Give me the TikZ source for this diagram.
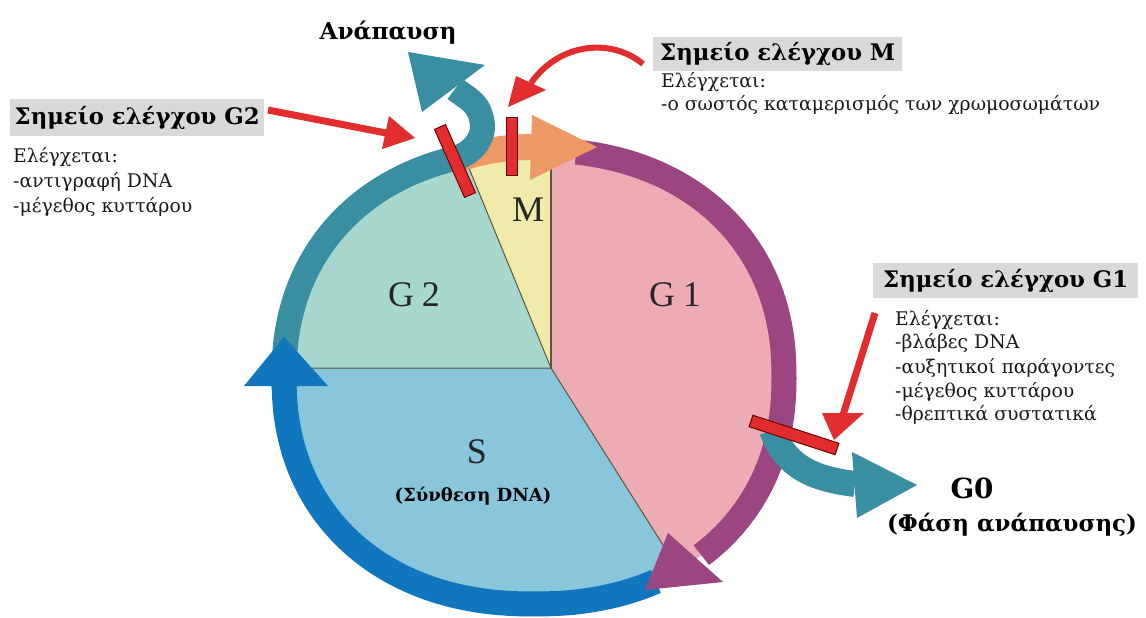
\documentclass[tikz,border=0pt]{standalone}
\usepackage{fontspec}
\setmainfont{Liberation Serif}
\newfontfamily\cam{DejaVu Serif}
\newlength\tmpw
\newcommand\fitsize[4]{\settowidth\tmpw{\cam\fontsize{10}{10}\selectfont#2#4}\pgfmathsetmacro#1{10*#3/\tmpw}}
\begin{document}
\fitsize\szlab{\bfseries}{245}{Σημείο ελέγχου G1}%
\fitsize\szbody{}{220}{-αυξητικοί παράγοντες}%
\fitsize\szrest{\bfseries}{137}{Ανάπαυση}%
\fitsize\szgz{\bfseries}{43}{G0}%
\fitsize\szfas{\bfseries}{250}{(Φάση ανάπαυσης)}%
\fitsize\szsyn{\bfseries}{157}{(Σύνθεση DNA)}%
\begin{tikzpicture}[x=1pt,y=-1pt,
  declare function={ex(\t)=534+250*sign(cos(\t))*pow(abs(cos(\t))+0.00001,0.909);
                     ey(\t)=377-227*sign(sin(\t))*pow(abs(sin(\t))+0.00001,0.909);},
  ring/.style={line width=25pt},
  redbar/.style={draw=red!45!black, fill=cRed, line width=1pt},
  redshaft/.style={draw=cRed, line width=7pt},
  sect/.style={draw=lineC, line width=1pt},
  lab/.style={font=\cam\fontsize{\szlab}{\szlab}\selectfont\bfseries, fill=boxgrey, inner sep=0pt, text=black, anchor=north west},
  body/.style={font=\cam\fontsize{\szbody}{\szbody}\selectfont, anchor=west, inner sep=0pt, text=black!90},
  phase/.style={font=\fontsize{36}{36}\selectfont, text=black!85, inner sep=0pt}]
\definecolor{cG2}{RGB}{168,215,205}
\definecolor{cM}{RGB}{240,235,170}
\definecolor{cG1}{RGB}{237,172,180}
\definecolor{cS}{RGB}{137,198,220}
\definecolor{cTeal}{RGB}{57,142,162}
\definecolor{cBlue}{RGB}{16,118,190}
\definecolor{cPurple}{RGB}{155,70,128}
\definecolor{cOrange}{RGB}{238,152,102}
\definecolor{cRed}{RGB}{225,45,45}
\definecolor{boxgrey}{RGB}{217,217,217}
\definecolor{lineC}{RGB}{90,85,60}

\fill[white] (0,0) rectangle (1146,618);
\useasboundingbox (0,0) rectangle (1146,618);

% pie
\begin{scope}
\clip plot[domain=0:360, samples=181, variable=\t] ({ex(\t)},{ey(\t)}) -- cycle;
\fill[cG1] (551,368) -- (551,100) -- (900,100) -- (900,722) -- (775,722) -- cycle;
\fill[cS] (551,368) -- (775,722) -- (200,722) -- (200,368) -- cycle;
\fill[cG2] (551,368) -- (200,368) -- (200,100) -- (441,100) -- cycle;
\fill[cM] (551,368) -- (441,100) -- (551,100) -- cycle;
\draw[sect] (441,100) -- (551,368) -- (200,368);
\draw[sect] (551,368) -- (775,722);
\draw[sect, line width=2pt] (551,100) -- (551,368);
\end{scope}

% ring
\draw[cTeal, ring] plot[domain=106:182, samples=40, variable=\t] ({ex(\t)},{ey(\t)});
\draw[cBlue, ring] plot[domain=181.6:297, samples=60, variable=\t] ({ex(\t)},{ey(\t)});
\fill[cBlue] (284,337) -- (244,386) -- (328,386) -- cycle;
\draw[cPurple, ring] plot[domain=-50:82, samples=70, variable=\t] ({ex(\t)},{ey(\t)});
\fill[cPurple] (668,533) -- (723,582) -- (645,590) -- cycle;
\draw[cOrange, line width=26pt] (462,158) .. controls (485,150) and (510,147) .. (533,147);
\fill[cOrange] (532,115) -- (597,147) -- (530,180) -- cycle;
\draw[cTeal, ring] (456.5,158) .. controls (474,152) and (487,136) .. (481,117) .. controls (477,102) and (468,99) .. (455,89);
\fill[cTeal] (408,52) -- (422,112) -- (485,65) -- cycle;
\draw[cTeal, line width=26pt] (772,430) .. controls (786,468) and (815,479) .. (855,484);
\fill[cTeal] (852,452) -- (917,485) -- (857,518) -- cycle;

% checkpoint bars
\draw[redbar] (445.5,124.6) -- (475.5,192.6) -- (464.5,197.4) -- (434.5,129.4) -- cycle;
\draw[redbar] (506,117) rectangle (517,175);
\draw[redbar] (749.1,426.7) -- (835.1,454.7) -- (838.9,443.3) -- (752.9,415.3) -- cycle;

% phase labels
\node[phase] (g2) at (414,295) {G\kern8pt 2};
\node[phase] (g1) at (675,295) {G\kern8pt 1};
\node[phase] (m) at (528,210) {M};
\node[phase] (s) at (477,452) {S};
\node[font=\cam\fontsize{\szsyn}{\szsyn}\selectfont\bfseries, inner sep=0pt] (sdna) at (473,496) {(Σύνθεση DNA)};

% checkpoint labels
\node[lab, minimum width=254pt, minimum height=37pt] (cg2) at (10,99) {Σημείο ελέγχου G2};
\node[body] (cg2a) at (13,157) {Ελέγχεται:};
\node[body] (cg2b) at (13,182) {-αντιγραφή DNA};
\node[body] (cg2c) at (13,207) {-μέγεθος κυττάρου};

\node[lab, minimum width=249pt, minimum height=34pt] (cm) at (653,37) {Σημείο ελέγχου M};
\node[body] (cma) at (661,82) {Ελέγχεται:};
\node[body] (cmb) at (661,105) {-ο σωστός καταμερισμός των χρωμοσωμάτων};

\node[lab, minimum width=265pt, minimum height=35pt] (cg1) at (873,263) {Σημείο ελέγχου G1};
\node[body] (cg1a) at (895,320) {Ελέγχεται:};
\node[body] (cg1b) at (895,343) {-βλάβες DNA};
\node[body] (cg1c) at (895,368) {-αυξητικοί παράγοντες};
\node[body] (cg1d) at (895,392) {-μέγεθος κυττάρου};
\node[body] (cg1e) at (895,415) {-θρεπτικά συστατικά};

\node[font=\cam\fontsize{\szrest}{\szrest}\selectfont\bfseries, inner sep=0pt] (rest) at (388,33) {Ανάπαυση};
\node[font=\cam\fontsize{\szgz}{\szgz}\selectfont\bfseries, inner sep=0pt] (g0) at (972,488) {G0};
\node[font=\cam\fontsize{\szfas}{\szfas}\selectfont\bfseries, inner sep=0pt] (g0b) at (1012,525) {(Φάση ανάπαυσης)};

% red arrows
\coordinate (a2s) at (268,110);
\coordinate (a2e) at (386,133);
\draw[redshaft] (a2s) -- (a2e);
\fill[cRed] (415,138) -- (382,149) -- (389,116) -- cycle;
\coordinate (ams) at (643,64);
\coordinate (ame) at (531,83);
\draw[redshaft, line width=6pt] (ams) .. controls (612,38) and (560,42) .. (ame);
\fill[cRed] (508,107) -- (516,76) -- (546,90) -- cycle;
\coordinate (a1s) at (875,313);
\coordinate (a1e) at (843,415);
\draw[redshaft] (a1s) -- (a1e);
\fill[cRed] (834,440) -- (822,413) -- (864,413) -- cycle;
\end{tikzpicture}
\end{document}
